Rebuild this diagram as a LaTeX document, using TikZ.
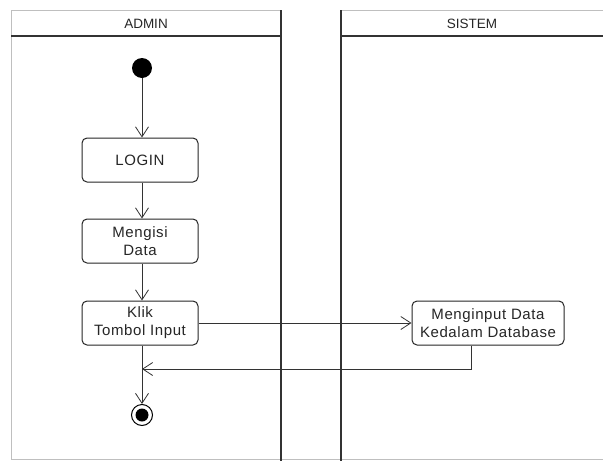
\documentclass[tikz,border=0pt]{standalone}
\usepackage{fontspec}
\setmainfont{Liberation Sans}
\usetikzlibrary{arrows.meta,calc}
\begin{document}
\begin{tikzpicture}[x=1pt,y=-1pt,
  lanefaint/.style={draw=black!25,line width=1pt},
  laneline/.style={draw=black!80,line width=1.3pt},
  act/.style={draw=black!85,line width=1pt,rounded corners=5pt,minimum width=116pt,minimum height=44pt,align=center,font=\fontsize{15}{18}\selectfont\addfontfeature{LetterSpace=4},text=black!85,inner sep=1pt},
  arr/.style={draw=black!80,line width=0.8pt,-{Straight Barb[length=10pt,width=13pt,line width=0.8pt]}},
  conn/.style={draw=black!80,line width=0.8pt},
  hdr/.style={font=\fontsize{13.5}{16}\selectfont,text=black!85}]
\useasboundingbox (0,0) rectangle (603,461);
\fill[white] (0,0) rectangle (603,461);
% lanes
\draw[lanefaint] (11,459) -- (11,10) -- (281,10);
\draw[lanefaint] (341,10) -- (603,10);
\draw[lanefaint] (11,459) -- (603,459);
\draw[laneline] (281,10) -- (281,461);
\draw[laneline] (341,10) -- (341,461);
\draw[laneline] (11,36) -- (281,36);
\draw[laneline] (341,36) -- (603,36);
\node[hdr] (hadmin) at (146,24) {ADMIN};
\node[hdr] (hsistem) at (472,24) {SISTEM};
% nodes
\node[circle,fill=black,minimum size=20pt,inner sep=0] (start) at (142,68) {};
\node[act] (login) at (140,160) {LOGIN};
\node[act] (isi) at (140,241) {Mengisi\\Data};
\node[act] (klik) at (140,323) {Klik\\Tombol Input};
\node[act,minimum width=152pt] (input) at (488,323) {Menginput Data\\Kedalam Database};
\node[circle,draw=black,line width=1pt,minimum size=21pt,inner sep=0] (end) at (142,415) {};
\node[circle,fill=black,minimum size=13pt,inner sep=0] (endin) at (142,415) {};
\coordinate (ret) at (142,369);
% connectors
\draw[arr] (start) -- (start |- login.north);
\draw[arr] (login.south -| 142,0) -- (isi.north -| 142,0);
\draw[arr] (isi.south -| 142,0) -- (klik.north -| 142,0);
\draw[conn] (klik.south -| 142,0) -- (ret);
\draw[arr] (ret) -- (end);
\draw[arr] (klik.east) -- (input.west);
\draw[arr] ([xshift=-17pt]input.south) |- (ret);
\end{tikzpicture}
\end{document}
